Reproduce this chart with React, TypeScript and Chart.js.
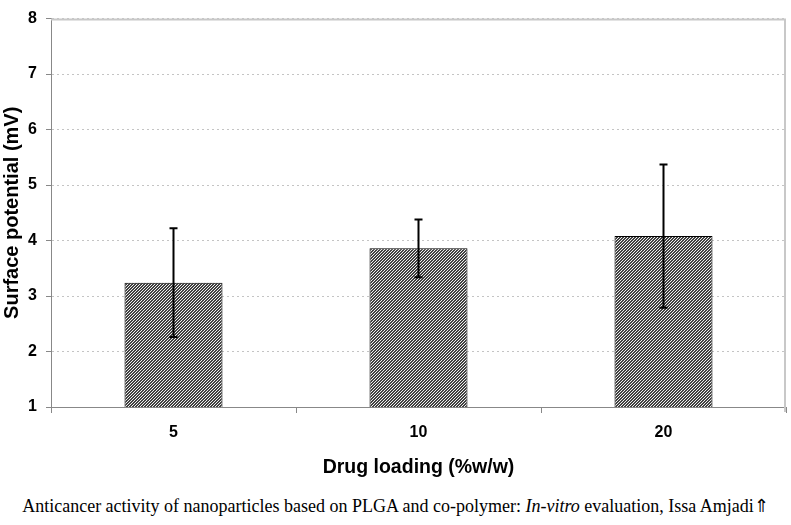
import React, { useEffect, useRef } from "react";
import { Chart, registerables } from "chart.js";

Chart.register(...registerables);

const categories = ["5", "10", "20"];
const means = [3.24, 3.86, 4.08];
const errors = [0.98, 0.52, 1.29];
const yMin = 1;
const yMax = 8;
const yTitle = "Surface potential (mV)";
const xTitle = "Drug loading (%w/w)";
const caption = "Anticancer activity of nanoparticles based on PLGA and co-polymer: ";
const captionItalic = "In-vitro";
const captionEnd = " evaluation, Issa Amjadi\u21D1";

function makePattern(): CanvasPattern | string {
  const c = document.createElement("canvas");
  c.width = 3;
  c.height = 3;
  const ctx = c.getContext("2d");
  if (!ctx) return "#777";
  const img = ctx.createImageData(3, 3);
  for (let y = 0; y < 3; y++) {
    for (let x = 0; x < 3; x++) {
      const i = (y * 3 + x) * 4;
      const light = (x + y) % 3 === 0;
      const v = light ? 240 : 65;
      img.data[i] = v;
      img.data[i + 1] = v;
      img.data[i + 2] = v;
      img.data[i + 3] = 255;
    }
  }
  ctx.putImageData(img, 0, 0);
  const p = ctx.createPattern(c, "repeat");
  return p || "#777";
}

const errorBarPlugin = {
  id: "errorBars",
  afterDatasetsDraw(chart: any) {
    const ctx = chart.ctx;
    const meta = chart.getDatasetMeta(0);
    const yScale = chart.scales.y;
    ctx.save();
    ctx.strokeStyle = "#000";
    ctx.lineWidth = 2;
    meta.data.forEach((el: any, i: number) => {
      const x = el.x;
      const top = yScale.getPixelForValue(means[i] + errors[i]);
      const bot = yScale.getPixelForValue(means[i] - errors[i]);
      ctx.beginPath();
      ctx.moveTo(x, top);
      ctx.lineTo(x, bot);
      ctx.moveTo(x - 4, top);
      ctx.lineTo(x + 4, top);
      ctx.moveTo(x - 4, bot);
      ctx.lineTo(x + 4, bot);
      ctx.stroke();
    });
    ctx.restore();
  },
};

const framePlugin = {
  id: "frame",
  beforeDatasetsDraw(chart: any) {
    const { ctx, chartArea } = chart;
    ctx.save();
    ctx.strokeStyle = "#c8c8c8";
    ctx.lineWidth = 2;
    ctx.beginPath();
    ctx.moveTo(chartArea.left, chartArea.top + 1);
    ctx.lineTo(chartArea.right - 1, chartArea.top + 1);
    ctx.lineTo(chartArea.right - 1, chartArea.bottom + 5);
    ctx.stroke();
    ctx.restore();
  },
};

export default function App() {
  const ref = useRef<HTMLCanvasElement>(null);

  useEffect(() => {
    document.body.style.margin = "0";
    const canvas = ref.current;
    if (!canvas) return;
    const chart = new Chart(canvas, {
      type: "bar",
      data: {
        labels: categories,
        datasets: [
          {
            data: means,
            backgroundColor: makePattern() as any,
            borderColor: "#000",
            borderWidth: 1,
            categoryPercentage: 0.4,
            barPercentage: 1,
          },
        ],
      },
      plugins: [framePlugin, errorBarPlugin],
      options: {
        responsive: false,
        animation: false,
        layout: { padding: { top: 8, right: 5, left: 0, bottom: 0 } },
        plugins: {
          legend: { display: false },
          tooltip: { enabled: false },
        },
        scales: {
          x: {
            afterFit: (s: any) => {
              s.height = 83;
            },
            grid: {
              display: true,
              offset: true,
              drawOnChartArea: false,
              drawTicks: true,
              tickLength: 6,
              color: "#888",
            },
            border: { display: true, color: "#888", width: 1 },
            ticks: {
              padding: 10,
              color: "#000",
              font: { family: "'Liberation Sans', Arial, sans-serif", size: 16, weight: "bold" },
            },
            title: {
              display: true,
              text: xTitle,
              color: "#000",
              padding: { top: 0, bottom: 11 },
              font: { family: "'Liberation Sans', Arial, sans-serif", size: 19.5, weight: "bold" },
            },
          },
          y: {
            min: yMin,
            max: yMax,
            afterFit: (s: any) => {
              s.width = 51;
            },
            grid: {
              color: "#c4c4c4",
              borderDash: [2, 3],
              tickBorderDash: [],
              tickColor: "#888",
              tickLength: 5,
              drawTicks: true,
            } as any,
            border: { display: true, color: "#888", width: 1, dash: [2, 3] } as any,
            ticks: {
              stepSize: 1,
              padding: 9,
              color: "#000",
              font: { family: "'Liberation Sans', Arial, sans-serif", size: 16, weight: "bold" },
            },
            title: {
              display: true,
              text: yTitle,
              color: "#000",
              padding: { top: 0, bottom: 0 },
              font: { family: "'Liberation Sans', Arial, sans-serif", size: 20, weight: "bold" },
            },
          },
        },
      },
    });
    return () => chart.destroy();
  }, []);

  return (
    <div style={{ position: "relative", width: 791, height: 525, background: "#fff" }}>
      <canvas ref={ref} width={791} height={490} style={{ display: "block", width: 791, height: 490 }} />
      <div
        style={{
          position: "absolute",
          top: 495,
          left: 0,
          width: 791,
          textAlign: "center",
          fontFamily: "'Liberation Serif', 'Times New Roman', serif",
          fontSize: 18,
          lineHeight: "22px",
          color: "#000",
          whiteSpace: "nowrap",
        }}
      >
        {caption}
        <i>{captionItalic}</i>
        {captionEnd}
      </div>
    </div>
  );
}
